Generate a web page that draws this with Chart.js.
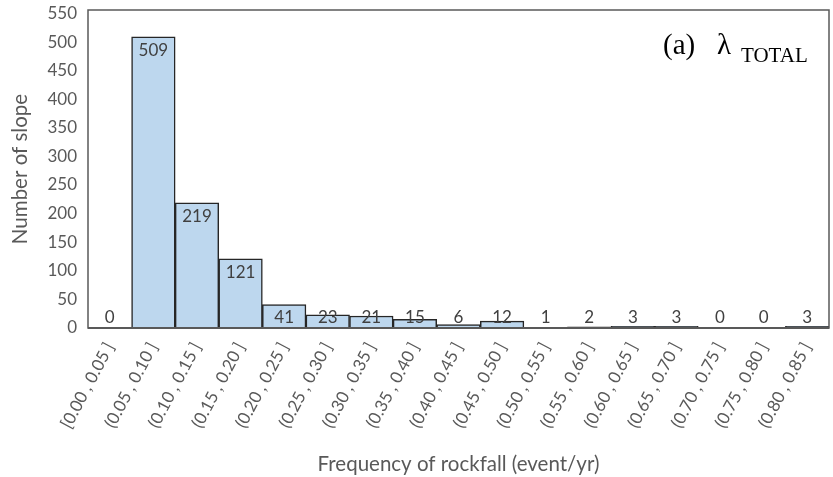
<!DOCTYPE html>
<html>
<head>
<meta charset="utf-8">
<script src="https://cdn.jsdelivr.net/npm/chart.js@4"></script>
<style>
  html, body { margin: 0; padding: 0; background: #fff; }
  #wrap { width: 833px; height: 477px; }
</style>
</head>
<body>
<div id="wrap"><canvas id="chart" width="833" height="477"></canvas></div>
<script>
// Chart data
const binLabels = [
    '[0.00 , 0.05 ]', '(0.05 , 0.10 ]', '(0.10 , 0.15 ]', '(0.15 , 0.20 ]', '(0.20 , 0.25 ]',
    '(0.25 , 0.30 ]', '(0.30 , 0.35 ]', '(0.35 , 0.40 ]', '(0.40 , 0.45 ]', '(0.45 , 0.50 ]',
    '(0.50 , 0.55 ]', '(0.55 , 0.60 ]', '(0.60 , 0.65 ]', '(0.65 , 0.70 ]', '(0.70 , 0.75 ]',
    '(0.75 , 0.80 ]', '(0.80 , 0.85 ]'
];
const slopeCounts = [0, 509, 219, 121, 41, 23, 21, 15, 6, 12, 1, 2, 3, 3, 0, 0, 3];
const yTicks = [0, 50, 100, 150, 200, 250, 300, 350, 400, 450, 500, 550];

const FONT = 'Lato, "Open Sans", sans-serif';
const SERIF = '"Liberation Serif", "DejaVu Serif", serif';

// plot frame
const framePlugin = {
    id: 'frame',
    afterDraw(chart){
        const { ctx, chartArea: a } = chart;
        ctx.save();
        ctx.strokeStyle = '#595959';
        ctx.lineWidth = 1.5;
        ctx.strokeRect(a.left, a.top, a.right - a.left, a.bottom - a.top);
        ctx.lineWidth = 2;
        ctx.beginPath();
        ctx.moveTo(a.left, a.bottom);
        ctx.lineTo(a.right, a.bottom);
        ctx.stroke();
        ctx.restore();
    }
};

// value labels, inside the top of each bar
const valueLabels = {
    id: 'valueLabels',
    afterDatasetsDraw(chart){
        const { ctx } = chart;
        const meta = chart.getDatasetMeta(0);
        const base = chart.scales.y.getPixelForValue(0);
        ctx.save();
        ctx.font = '17px ' + FONT;
        ctx.fillStyle = '#404040';
        ctx.textAlign = 'center';
        ctx.textBaseline = 'middle';
        meta.data.forEach((bar, i) => {
            const y = Math.min(bar.y + 14, base - 10);
            ctx.fillText(String(slopeCounts[i]), bar.x, y);
        });
        ctx.restore();
    }
};

// "(a)  λ TOTAL" panel tag
const panelTag = {
    id: 'panelTag',
    afterDraw(chart){
        const { ctx, chartArea: a } = chart;
        ctx.save();
        ctx.fillStyle = '#000';
        ctx.textBaseline = 'alphabetic';
        ctx.textAlign = 'left';
        ctx.font = '29px ' + SERIF;
        ctx.fillText('(a)', a.right - 166, a.top + 44);
        ctx.fillText('λ', a.right - 112, a.top + 44);
        ctx.font = '21px ' + SERIF;
        ctx.fillText('TOTAL', a.right - 88, a.top + 52);
        ctx.restore();
    }
};

new Chart(document.getElementById('chart'), {
    type: 'bar',
    data: {
        labels: binLabels,
        datasets: [{
            data: slopeCounts,
            backgroundColor: '#BDD7EE',
            borderColor: '#262626',
            borderWidth: 1.5,
            barPercentage: 1,
            categoryPercentage: 1
        }]
    },
    options: {
        responsive: false,
        animation: false,
        layout: { padding: { top: 10, right: 4, left: 0, bottom: 0 } },
        plugins: {
            legend: { display: false },
            tooltip: { enabled: false }
        },
        scales: {
            x: {
                grid: { display: false, drawTicks: false },
                border: { display: false },
                ticks: {
                    autoSkip: false,
                    minRotation: 62,
                    maxRotation: 62,
                    padding: 11,
                    color: '#595959',
                    font: { family: FONT, size: 17 }
                },
                title: {
                    display: true,
                    text: 'Frequency of rockfall (event/yr)',
                    color: '#595959',
                    font: { family: FONT, size: 20.5 },
                    padding: { top: 0, bottom: 0 }
                },
                afterFit: s => { s.height = 149; s.paddingLeft = 0; s.paddingRight = 0; }
            },
            y: {
                min: 0,
                max: 556,
                grid: { display: false, drawTicks: false },
                border: { display: false },
                afterBuildTicks: s => { s.ticks = yTicks.map(v => ({ value: v })); },
                ticks: {
                    padding: 11,
                    color: '#595959',
                    font: { family: FONT, size: 17 }
                },
                title: {
                    display: true,
                    text: 'Number of slope',
                    color: '#595959',
                    font: { family: FONT, size: 20.5 },
                    padding: { top: 8, bottom: 0 }
                },
                afterFit: s => { s.width = 88; s.paddingTop = 0; s.paddingBottom = 0; }
            }
        }
    },
    plugins: [framePlugin, valueLabels, panelTag]
});
</script>
</body>
</html>
